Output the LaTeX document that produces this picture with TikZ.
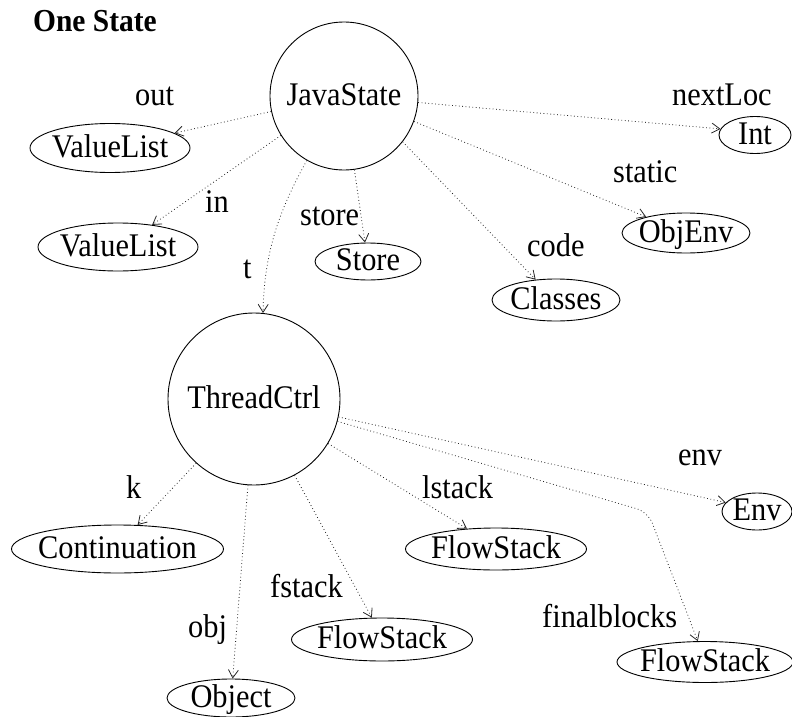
\documentclass[tikz,border=0pt]{standalone}
\usepackage{fontspec}
\setmainfont[FakeStretch=0.92]{Liberation Serif}
\usetikzlibrary{shapes.geometric,arrows.meta}
\newcommand{\ztx}[1]{\makebox[0pt]{#1}}
\begin{document}
\begin{tikzpicture}[x=1pt,y=-1pt,
  font=\fontsize{33}{39}\selectfont,
  ell/.style={ellipse, draw, line width=0.9pt, inner sep=0pt, text height=22pt, text depth=4pt},
  circ/.style={circle, draw, line width=0.9pt, inner sep=0pt, text height=22pt, text depth=4pt},
  lbl/.style={anchor=base west, inner sep=0pt},
  edge/.style={draw=black!85, line width=0.8pt, dash pattern=on 0.8pt off 2.6pt,
    -{Straight Barb[length=8pt,width=10pt,line width=0.8pt]}}
]
\useasboundingbox (0,0) rectangle (792,717);

\node[lbl, font=\fontsize{32}{38}\selectfont\bfseries] (title) at (33,31.7) {One State};

\node[circ, minimum size=148pt] (js) at (344,96) {JavaState};
\node[circ, minimum size=172pt] (tc) at (254,399) {ThreadCtrl};

\node[ell, minimum width=160pt, minimum height=49pt] (vl1) at (110,148) {\ztx{ValueList}};
\node[ell, minimum width=160pt, minimum height=48pt] (vl2) at (118,247) {\ztx{ValueList}};
\node[ell, minimum width=106pt, minimum height=37pt] (store) at (368,261.5) {\ztx{Store}};
\node[ell, minimum width=128pt, minimum height=42pt] (classes) at (556,300) {\ztx{Classes}};
\node[ell, minimum width=128pt, minimum height=40pt] (objenv) at (686,233) {\ztx{ObjEnv}};
\node[ell, minimum width=72pt, minimum height=37pt] (int) at (755,135) {\ztx{Int}};
\node[ell, minimum width=212pt, minimum height=48pt] (cont) at (117.5,549) {\ztx{Continuation}};
\node[ell, minimum width=128pt, minimum height=38pt] (object) at (231,698) {\ztx{Object}};
\node[ell, minimum width=181pt, minimum height=43pt] (fs1) at (382,639.5) {\ztx{FlowStack}};
\node[ell, minimum width=181pt, minimum height=42pt] (fs2) at (496,549) {\ztx{FlowStack}};
\node[ell, minimum width=70pt, minimum height=37pt] (env) at (757,511.5) {\ztx{Env}};
\node[ell, minimum width=176pt, minimum height=41pt] (fs3) at (705,662) {\ztx{FlowStack}};

\coordinate (fbk) at (648,512);

\draw[edge] (js.192) -- (vl1.13);
\draw[edge] (js.212) -- (vl2.33);
\draw[edge] (js.240) .. controls (281,207) and (264,250) .. (tc.84);
\draw[edge] (js.278) -- (store.99);
\draw[edge] (js.322) -- (classes.135);
\draw[edge] (js.340) -- (objenv.158);
\draw[edge] (js.355) -- (int.170);
\draw[edge] (tc.228) -- (cont.50);
\draw[edge] (tc.266) -- (object.85);
\draw[edge] (tc.298) -- (fs1.115);
\draw[edge] (tc.329) -- (fs2.145);
\draw[edge] (tc.348) -- (env.164);
\draw[edge, rounded corners=12pt] (tc.345) -- (fbk) -- (fs3.109);

\node[lbl] (lout) at (135,105) {out};
\node[lbl] (lin) at (205,212) {in};
\node[lbl] (lt) at (243,278) {t};
\node[lbl] (lstore) at (300,225) {store};
\node[lbl] (lcode) at (527,256) {code};
\node[lbl] (lstatic) at (613,182) {static};
\node[lbl] (lnext) at (672,105) {nextLoc};
\node[lbl] (lk) at (126,498) {k};
\node[lbl] (lobj) at (188,637) {obj};
\node[lbl] (lfstack) at (270,597) {fstack};
\node[lbl] (llstack) at (422,498) {lstack};
\node[lbl] (lenv) at (678,465) {env};
\node[lbl] (lfinal) at (542,627) {finalblocks};
\end{tikzpicture}
\end{document}
